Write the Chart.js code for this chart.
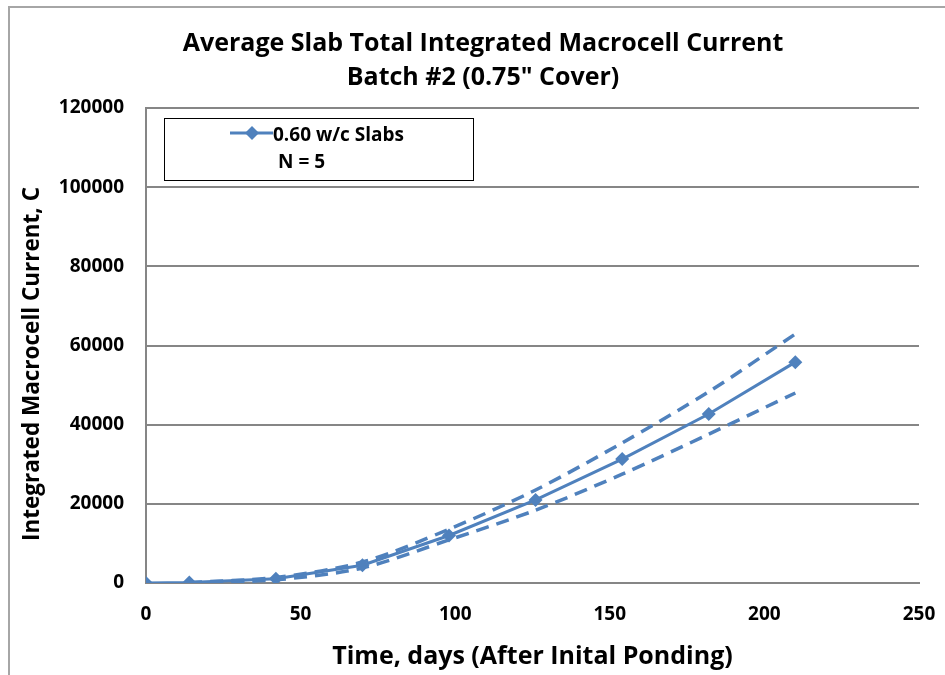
<!DOCTYPE html>
<html>
<head>
<meta charset="utf-8">
<script src="https://cdn.jsdelivr.net/npm/chart.js@4"></script>
<style>
  html, body { margin: 0; padding: 0; background: #fff; }
  #wrap { width: 945px; height: 675px; position: relative; }
</style>
</head>
<body>
<div id="wrap"><canvas id="c" width="945" height="675"></canvas></div>
<script>
  'use strict';

  // Werte
  var DAYS = [0, 14, 42, 70, 98, 126, 154, 182, 210];
  var AVG = [0, 100, 1100, 4500, 12000, 21000, 31300, 42700, 55800];
  var BAND_DAYS = [14, 42, 70, 98, 126, 154, 182, 210];
  var UPPER = [100, 1400, 5300, 13600, 23500, 35400, 48300, 62900];
  var LOWER = [0, 800, 3800, 10900, 18400, 27500, 37600, 48000];
  var Y_TICKS = [0, 20000, 40000, 60000, 80000, 100000, 120000];
  var X_TICKS = [0, 50, 100, 150, 200, 250];

  var TITLE = ['Average Slab Total Integrated Macrocell Current', 'Batch #2 (0.75" Cover)'];
  var X_TITLE = 'Time, days (After Inital Ponding)';
  var Y_TITLE = 'Integrated Macrocell Current, C';
  var LEGEND = ['0.60 w/c Slabs', 'N = 5'];

  var BLUE = '#4F81BD';
  var GRID = '#868686';
  var FONT = '"Open Sans", sans-serif';

  function pts(xs, ys) { return xs.map(function (x, i) { return { x: x, y: ys[i] }; }); }

  // Rahmen, Titel, Y-Achsentitel und Legende
  var deko = {
    id: 'deko',
    beforeDraw: function (chart) {
      var ctx = chart.ctx;
      ctx.save();
      ctx.fillStyle = '#fff';
      ctx.fillRect(0, 0, chart.width, chart.height);
      ctx.strokeStyle = '#A6A6A6';
      ctx.lineWidth = 2;
      ctx.strokeRect(9, 7, 1000, 1000);
      ctx.restore();
    },
    afterDraw: function (chart) {
      var ctx = chart.ctx, a = chart.chartArea;
      ctx.save();
      ctx.fillStyle = '#000';
      ctx.textAlign = 'center';
      ctx.textBaseline = 'middle';
      ctx.font = 'bold 25px ' + FONT;
      ctx.fillText(TITLE[0], 483, 44);
      ctx.fillText(TITLE[1], 483, 78);

      ctx.save();
      ctx.translate(33, 364);
      ctx.rotate(-Math.PI / 2);
      ctx.font = 'bold 22.5px ' + FONT;
      ctx.fillText(Y_TITLE, 0, 0);
      ctx.restore();

      // Legende
      var lx = a.left + 18, ly = a.top + 10;
      ctx.fillStyle = '#fff';
      ctx.fillRect(lx, ly, 309, 62);
      ctx.strokeStyle = '#000';
      ctx.lineWidth = 1;
      ctx.strokeRect(lx + 0.5, ly + 0.5, 309, 62);
      ctx.strokeStyle = BLUE;
      ctx.lineWidth = 3;
      ctx.beginPath();
      ctx.moveTo(lx + 66, ly + 15);
      ctx.lineTo(lx + 109, ly + 15);
      ctx.stroke();
      ctx.fillStyle = BLUE;
      ctx.beginPath();
      var cx = lx + 88, cy = ly + 15;
      ctx.moveTo(cx, cy - 7); ctx.lineTo(cx + 7, cy); ctx.lineTo(cx, cy + 7); ctx.lineTo(cx - 7, cy);
      ctx.closePath(); ctx.fill();
      ctx.fillStyle = '#000';
      ctx.textAlign = 'left';
      ctx.font = 'bold 19px ' + FONT;
      ctx.fillText(LEGEND[0], lx + 109, ly + 18);
      ctx.fillText(LEGEND[1], lx + 114, ly + 45);
      ctx.restore();
    }
  };

  var dashed = {
    borderColor: BLUE, borderWidth: 3.5, borderDash: [13, 8],
    pointRadius: 0, tension: 0.3, fill: false
  };

  new Chart(document.getElementById('c').getContext('2d'), {
    type: 'scatter',
    data: {
      datasets: [
        Object.assign({ data: pts(BAND_DAYS, UPPER), showLine: true }, dashed),
        Object.assign({ data: pts(BAND_DAYS, LOWER), showLine: true }, dashed),
        {
          data: pts(DAYS, AVG), showLine: true,
          borderColor: BLUE, backgroundColor: BLUE, borderWidth: 3,
          pointStyle: 'rectRot', pointRadius: 7, pointBorderWidth: 0, tension: 0
        }
      ]
    },
    options: {
      responsive: false, animation: false,
      layout: { padding: { top: 108, left: 0, right: 26, bottom: 0 } },
      plugins: { legend: { display: false }, tooltip: { enabled: false }, title: { display: false } },
      scales: {
        x: {
          type: 'linear', min: 0, max: 250,
          afterBuildTicks: function (s) { s.ticks = X_TICKS.map(function (v) { return { value: v }; }); },
          afterFit: function (s) { s.height = 92; s.paddingLeft = 0; s.paddingRight = 0; },
          grid: { display: false, drawTicks: false },
          border: { display: true, color: GRID, width: 2 },
          ticks: { padding: 20, color: '#000', font: { family: FONT, weight: 'bold', size: 19 } },
          title: {
            display: true, text: X_TITLE, color: '#000',
            font: { family: FONT, weight: 'bold', size: 25 }, padding: { top: 0, bottom: 3 }
          }
        },
        y: {
          min: 0, max: 120000,
          afterBuildTicks: function (s) { s.ticks = Y_TICKS.map(function (v) { return { value: v }; }); },
          afterFit: function (s) { s.width = 146; },
          grid: { color: GRID, lineWidth: 2, drawTicks: false },
          border: { display: true, color: GRID, width: 2 },
          ticks: {
            padding: 22, color: '#000', font: { family: FONT, weight: 'bold', size: 19 },
            callback: function (v) { return String(v); }
          }
        }
      }
    },
    plugins: [deko]
  });
</script>
</body>
</html>
